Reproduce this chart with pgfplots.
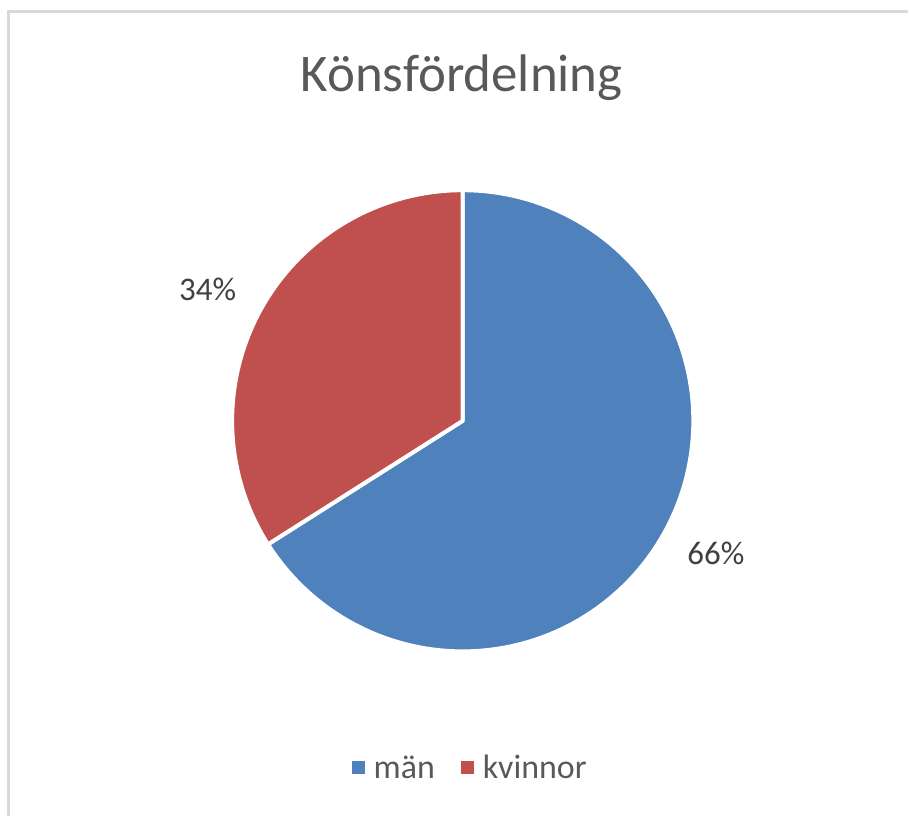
\documentclass[border=0pt]{standalone}
\usepackage{fontspec}
\setmainfont{Carlito}
\usepackage{pgfplots}
\usepackage{pgfplotstable}
\pgfplotsset{compat=1.18}
\definecolor{manblue}{HTML}{4F81BD}
\definecolor{kvred}{HTML}{C0504D}
\definecolor{titlegray}{HTML}{595959}
\definecolor{labgray}{HTML}{404040}
\definecolor{bordergray}{HTML}{D9D9D9}
\pgfplotstableread{
share
66
34
}\piedata
\begin{document}
\begin{tikzpicture}
\pgfplotstablegetelem{0}{share}\of\piedata \let\sA\pgfplotsretval
\pgfplotstablegetelem{1}{share}\of\piedata \let\sB\pgfplotsretval
\pgfmathsetmacro{\aStart}{90-3.6*\sA}
\pgfmathsetmacro{\bEnd}{90+3.6*\sB}
\def\cx{463.5}\def\cy{395.5}\def\r{231}
\begin{axis}[
  scale only axis, width=909pt, height=817pt,
  xmin=0, xmax=909, ymin=0, ymax=817,
  hide axis, clip=false,
  legend columns=2,
  legend style={at={(470/909,48/817)}, anchor=center, draw=none, fill=none,
    font=\fontsize{34}{40}\selectfont, text=titlegray,
    /tikz/every even column/.append style={column sep=22pt}},
]
\path (axis cs:0,0) rectangle (axis cs:909,817);
\draw[bordergray, line width=3pt] (axis cs:8.5,0) -- (axis cs:8.5,805) -- (axis cs:909,805);
\addplot[draw=white, line width=4pt, fill=manblue, line join=round, domain=\aStart:90, samples=120,
  legend image code/.code={\path (0pt,0pt) -- (18pt,0pt);\fill[manblue,draw=none,line width=0pt] (0pt,-6.5pt) rectangle (13pt,6.5pt);}]
  ({\cx+\r*cos(x)},{\cy+\r*sin(x)}) -- (axis cs:\cx,\cy) -- cycle;
\addlegendentry{män}
\addplot[draw=white, line width=4pt, fill=kvred, line join=round, domain=90:\bEnd, samples=80,
  legend image code/.code={\path (0pt,0pt) -- (18pt,0pt);\fill[kvred,draw=none,line width=0pt] (0pt,-6.5pt) rectangle (13pt,6.5pt);}]
  ({\cx+\r*cos(x)},{\cy+\r*sin(x)}) -- (axis cs:\cx,\cy) -- cycle;
\addlegendentry{kvinnor}
\node[font=\fontsize{53}{60}\selectfont, text=titlegray, anchor=base] at (axis cs:462.5,725) {Könsfördelning};
\node[font=\fontsize{33}{40}\selectfont, text=labgray] at (axis cs:208,527) {34\%};
\node[font=\fontsize{33}{40}\selectfont, text=labgray] at (axis cs:717,263) {66\%};
\end{axis}
\end{tikzpicture}
\end{document}
